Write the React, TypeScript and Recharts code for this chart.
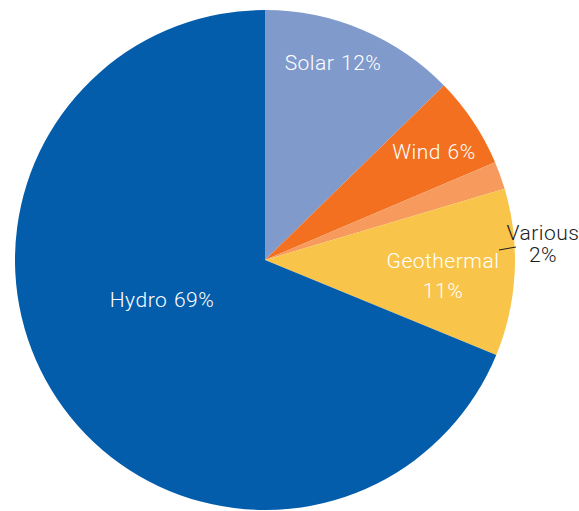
import { PieChart, Pie, Cell } from "recharts";

const sources = ["Solar", "Wind", "Various", "Geothermal", "Hydro"];
const shares = [12.7, 5.9, 1.8, 10.8, 68.8];
const shareLabels = ["12%", "6%", "2%", "11%", "69%"];
const colors = ["#7f9acb", "#f37021", "#f79a5e", "#f8c54a", "#035daa"];

const data = sources.map((name, i) => ({ name, value: shares[i], pct: shareLabels[i] }));

// label placement, as offsets from the pie centre
const labelLayout: Record<string, { dx: number; dy: number; split?: boolean; outside?: boolean }> = {
  Solar: { dx: 68, dy: -190 },
  Wind: { dx: 169, dy: -101 },
  Various: { dx: 278, dy: -20, split: true, outside: true },
  Geothermal: { dx: 178, dy: 8, split: true },
  Hydro: { dx: -103, dy: 47 },
};

const FONT = "Roboto, 'Liberation Sans', sans-serif";

function renderLabel(props: any) {
  const { cx, cy, index } = props;
  const d = data[index];
  const pos = labelLayout[d.name];
  const x = cx + pos.dx;
  const y = cy + pos.dy;
  const fill = pos.outside ? "#1a1a1a" : "#ffffff";
  const common = {
    textAnchor: "middle" as const,
    fontFamily: FONT,
    fontWeight: 300,
    fontSize: 21,
    letterSpacing: 0.5,
    wordSpacing: 1,
    fill,
  };
  if (pos.split) {
    return (
      <g key={d.name}>
        {pos.outside && (
          <line x1={cx + 234} y1={cy - 10} x2={cx + 251} y2={cy - 13} stroke="#1a1a1a" strokeWidth={1} />
        )}
        <text x={x} y={y} {...common}>{d.name}</text>
        <text x={x} y={y + (pos.outside ? 22 : 30)} {...common}>{d.pct}</text>
      </g>
    );
  }
  return (
    <text key={d.name} x={x} y={y} {...common}>
      {d.name} {d.pct}
    </text>
  );
}

export default function App() {
  return (
    <div style={{ position: "absolute", left: 0, top: 0, background: "#fff" }}>
      <PieChart width={579} height={511} margin={{ top: 0, right: 0, bottom: 0, left: 0 }}>
        <Pie
          data={data}
          dataKey="value"
          nameKey="name"
          cx={265}
          cy={260}
          outerRadius={250}
          startAngle={90}
          endAngle={-270}
          stroke="none"
          label={renderLabel}
          labelLine={false}
          isAnimationActive={false}
        >
          {data.map((d, i) => (
            <Cell key={d.name} fill={colors[i]} />
          ))}
        </Pie>
      </PieChart>
    </div>
  );
}
